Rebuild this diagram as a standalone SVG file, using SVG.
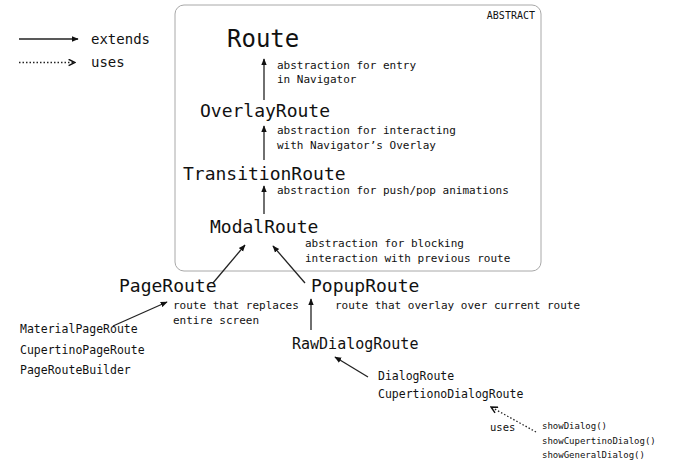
<svg xmlns="http://www.w3.org/2000/svg" width="700" height="469" viewBox="0 0 700 469">
<style>
text{font-family:"DejaVu Sans Mono","Liberation Mono",monospace;fill:#111}
.big{font-size:24px}
.node{font-size:18px}
.mid{font-size:15px}
.note{font-size:11px}
.sub{font-size:11.5px}
.tiny{font-size:9px}
.leg{font-size:14px}
.ext{stroke:#222;stroke-width:1.3;fill:none;marker-end:url(#ah)}
.use{stroke:#222;stroke-width:1.3;fill:none;stroke-dasharray:1.5 2;marker-end:url(#oh)}
</style>
<defs>
<marker id="ah" viewBox="0 0 10 10" refX="9" refY="5" markerWidth="7" markerHeight="7" markerUnits="userSpaceOnUse" orient="auto">
<path d="M0,1 L10,5 L0,9 z" fill="#111"/>
</marker>
<marker id="oh" viewBox="0 0 10 10" refX="9" refY="5" markerWidth="8" markerHeight="8" markerUnits="userSpaceOnUse" orient="auto">
<path d="M1,1 L9,5 L1,9" fill="none" stroke="#111" stroke-width="1.8"/>
</marker>
</defs>
<rect width="700" height="469" fill="#fff"/>
<g id="legend">
<line class="ext" x1="19" y1="39" x2="78" y2="39"/>
<text class="leg" x="91" y="44">extends</text>
<line class="use" x1="19" y1="62.5" x2="75" y2="62.5"/>
<text class="leg" x="91" y="67">uses</text>
</g>
<g id="abstract-box">
<rect x="175" y="5" width="366" height="266" rx="9" fill="none" stroke="#a8a8a8" stroke-width="1"/>
<text class="note" x="535" y="19" text-anchor="end" style="font-size:10px">ABSTRACT</text>
</g>
<g id="connectors">
<line class="ext" x1="264" y1="100" x2="264" y2="59"/>
<line class="ext" x1="264" y1="160" x2="264" y2="126"/>
<line class="ext" x1="264" y1="214" x2="264" y2="186"/>
<line class="ext" x1="213" y1="283" x2="245" y2="245"/>
<line class="ext" x1="305" y1="283" x2="273" y2="246"/>
<line class="ext" x1="113" y1="326" x2="167" y2="302"/>
<line class="ext" x1="311" y1="330" x2="311" y2="299"/>
<line class="ext" x1="368" y1="377" x2="335" y2="357"/>
<line class="use" x1="536" y1="432" x2="491" y2="407"/>
</g>
<g id="Route">
<text class="big" x="227" y="47">Route</text>
<text class="note" x="277" y="69">abstraction for entry</text>
<text class="note" x="277" y="83">in Navigator</text>
</g>
<g id="OverlayRoute">
<text class="node" x="200" y="117">OverlayRoute</text>
<text class="note" x="277" y="134">abstraction for interacting</text>
<text class="note" x="277" y="149">with Navigator’s Overlay</text>
</g>
<g id="TransitionRoute">
<text class="node" x="183" y="180">TransitionRoute</text>
<text class="note" x="277" y="194">abstraction for push/pop animations</text>
</g>
<g id="ModalRoute">
<text class="node" x="210" y="233">ModalRoute</text>
<text class="note" x="305" y="247">abstraction for blocking</text>
<text class="note" x="305" y="262">interaction with previous route</text>
</g>
<g id="PageRoute">
<text class="node" x="119" y="292">PageRoute</text>
<text class="note" x="173" y="309">route that replaces</text>
<text class="note" x="173" y="324">entire screen</text>
</g>
<g id="PopupRoute">
<text class="node" x="311" y="292">PopupRoute</text>
<text class="note" x="335" y="309">route that overlay over current route</text>
</g>
<g id="PageRouteSubclasses">
<text class="sub" x="20" y="333">MaterialPageRoute</text>
<text class="sub" x="20" y="354">CupertinoPageRoute</text>
<text class="sub" x="20" y="374">PageRouteBuilder</text>
</g>
<g id="RawDialogRoute">
<text class="mid" x="292" y="349">RawDialogRoute</text>
</g>
<g id="DialogSubclasses">
<text class="sub" x="378" y="380">DialogRoute</text>
<text class="sub" x="378" y="398">CupertionoDialogRoute</text>
</g>
<g id="uses-label">
<text class="note" x="490" y="431" style="font-size:10.5px">uses</text>
</g>
<g id="DialogFunctions">
<text class="tiny" x="542" y="429">showDialog()</text>
<text class="tiny" x="542" y="444">showCupertinoDialog()</text>
<text class="tiny" x="542" y="458">showGeneralDialog()</text>
</g>
</svg>
